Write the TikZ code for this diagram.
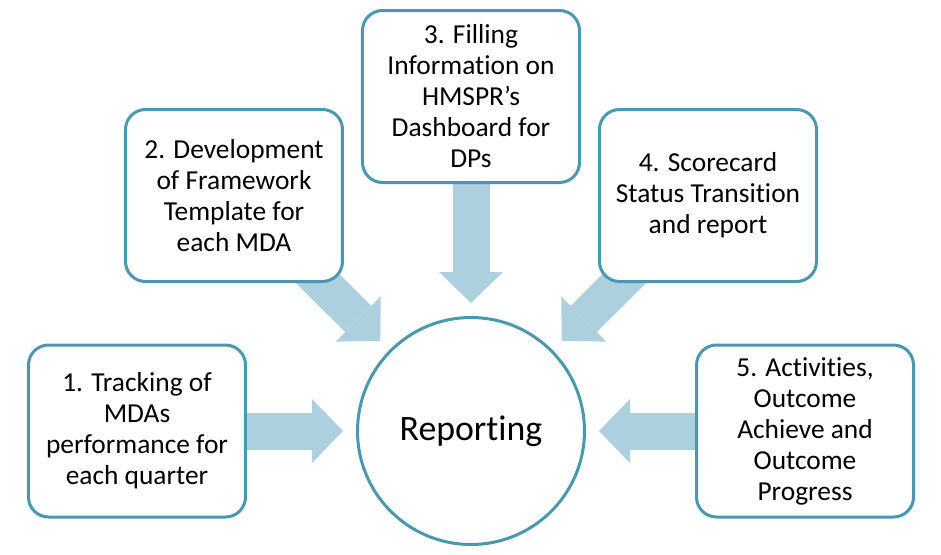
\documentclass[tikz,border=0pt]{standalone}
\usepackage{fontspec}
\setmainfont{Carlito}[Ligatures={NoCommon,NoContextual}, Contextuals=NoAlternate]
\usetikzlibrary{arrows.meta, positioning, backgrounds}
\definecolor{rim}{RGB}{74, 152, 175}
\definecolor{flow}{RGB}{172, 208, 222}

\begin{document}
\begin{tikzpicture}[
            stage/.style={draw=rim, line width=1.5pt, fill=white, rounded corners=10pt, minimum width=108.5pt, minimum height=86pt, outer sep=0pt, align=center, font=\fontsize{13.7}{15.5}\selectfont},
            hub/.style={draw=rim, line width=1.5pt, fill=white, circle, minimum size=113.5pt, inner sep=0pt, outer sep=0pt, font=\fontsize{17.9}{21}\selectfont},
            feed/.style={draw=flow, line width=18.5pt, -{Triangle[length=15.5pt, width=32pt, line width=0pt]}, shorten >=7.25pt}
        ]
            \useasboundingbox (-235.5pt,-61.5pt) rectangle (235pt,215.5pt);
            \node[hub] (rep) at (0,0) {Reporting};
            \node[stage, left=56pt of rep] (track) {1. Tracking of\\MDAs\\performance for\\each quarter};
            \node[stage, above=67.5pt of rep] (fill) {3. Filling\\Information on\\HMSPR’s\\Dashboard for\\DPs};
            \node[stage, left=10pt of fill, yshift=-49.5pt] (frame) {2. Development\\of Framework\\Template for\\each MDA};
            \node[stage, right=10pt of fill, yshift=-49.5pt] (score) {4. Scorecard\\Status Transition\\and report};
            \node[stage, right=56pt of rep] (act) {5. Activities,\\Outcome\\Achieve and\\Outcome\\Progress};

            \begin{scope}[on background layer]
                \draw[feed] (track.center) -- (rep);
                \draw[feed] (frame.center) -- (rep);
                \draw[feed] (fill.center) -- (rep);
                \draw[feed] (score.center) -- (rep);
                \draw[feed] (act.center) -- (rep);
            \end{scope}
        \end{tikzpicture}
\end{document}
